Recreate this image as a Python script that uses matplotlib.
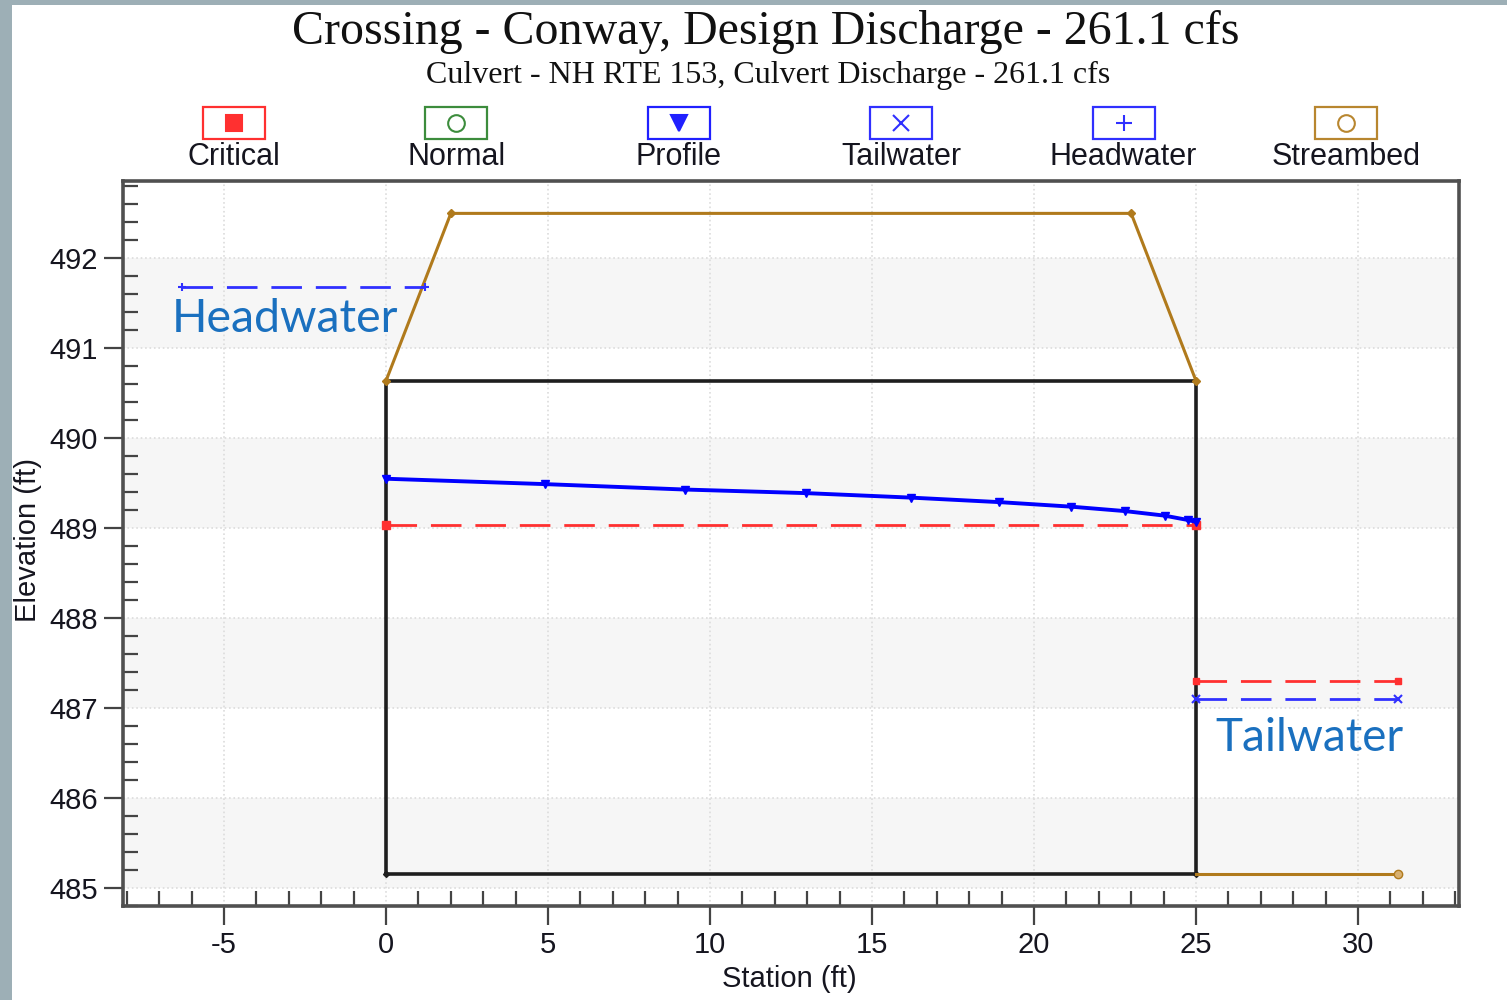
import numpy as np
import matplotlib.pyplot as plt
from matplotlib.patches import Rectangle

plt.rcParams["axes.unicode_minus"] = False

# culvert crossing profile, station (ft) / elevation (ft)
culvert_x = [0, 25, 25, 0, 0]
culvert_y = [485.16, 485.16, 490.64, 490.64, 485.16]

road_x = [0, 2, 23, 25]
road_y = [490.64, 492.5, 492.5, 490.64]

bed_x = [25, 31.25]
bed_y = [485.16, 485.16]

profile_x = [0, 4.92, 9.22, 12.97, 16.21, 18.93, 21.13, 22.82, 24.03, 24.77, 25.0]
profile_y = [489.55, 489.49, 489.43, 489.39, 489.34, 489.29, 489.24, 489.19, 489.14, 489.09, 489.07]

crit_x = [0, 25]
crit_y = [489.04, 489.04]
crit_out_x = [25, 31.25]
crit_out_y = [487.30, 487.30]

tw_x = [25, 31.25]
tw_y = [487.10, 487.10]

hw_x = [-6.3, 1.2]
hw_y = [491.68, 491.68]

legend_names = ["Critical", "Normal", "Profile", "Tailwater", "Headwater", "Streambed"]
legend_colors = ["#ff3030", "#3c8c3c", "#2020ff", "#3030ff", "#3030ff", "#b8862f"]
legend_markers = ["s", "o", "v", "x", "+", "o"]
legend_filled = [True, False, True, False, False, False]

RED = "#ff3030"
BLUE = "#0000ff"
BROWN = "#b07a1c"

fig = plt.figure(figsize=(15.07, 10), dpi=100)
fig.patch.set_facecolor("white")

# background / legend layer in pixel coordinates
lax = fig.add_axes([0, 0, 1, 1], zorder=-5)
lax.set_xlim(0, 1507)
lax.set_ylim(1000, 0)
lax.axis("off")
lax.add_patch(Rectangle((0, 0), 12, 1000, color="#9dafb6", lw=0))
lax.add_patch(Rectangle((0, 0), 1507, 5, color="#9dafb6", lw=0))

for i, name in enumerate(legend_names):
    cx = 234 + i * 222.4
    lax.add_patch(Rectangle((cx - 31, 107), 62, 32, fill=False,
                            edgecolor=legend_colors[i], lw=1.6))
    mfc = legend_colors[i] if legend_filled[i] else "none"
    lax.plot([cx], [123], marker=legend_markers[i], ms=12, mfc=mfc,
             mec=legend_colors[i], mew=1.5, ls="none")
    lax.text(cx, 157, name, ha="center", va="center", fontsize=22,
             family="Liberation Sans", color="#15151f")

fig.text(0.508, 0.968, "Crossing - Conway, Design Discharge - 261.1 cfs",
         ha="center", va="center", fontsize=34.5, family="Liberation Serif", color="#111")
fig.text(0.510, 0.925, "Culvert - NH RTE 153, Culvert Discharge - 261.1 cfs",
         ha="center", va="center", fontsize=23, family="Liberation Serif", color="#111")

ax = fig.add_axes([123 / 1507, 1 - 906 / 1000, (1459 - 123) / 1507, (906 - 181) / 1000])
ax.set_facecolor("white")
ax.set_xlim(-8.12, 33.12)
ax.set_ylim(484.8, 492.86)

for lo in range(485, 492, 2):
    ax.axhspan(lo, lo + 1, color="#f6f6f6", lw=0, zorder=0)

ax.set_xticks(np.arange(-5, 31, 5))
ax.set_xticks(np.arange(-8, 34, 1), minor=True)
ax.set_yticks(np.arange(485, 493, 1))
ax.set_yticks(np.round(np.arange(484.8, 492.85, 0.2), 1), minor=True)
ax.grid(True, which="major", linestyle=":", color="#dcdcdc", lw=1.2)
ax.set_axisbelow(True)

ax.tick_params(which="major", direction="out", length=14, width=1.6, color="#444",
               labelsize=21, pad=4)
ax.tick_params(which="minor", direction="in", length=11, width=1.6, color="#444")
for lab in ax.get_xticklabels() + ax.get_yticklabels():
    lab.set_family("Liberation Sans")
    lab.set_color("#15151f")

for s in ax.spines.values():
    s.set_color("#505050")
    s.set_linewidth(2.6)

# culvert barrel
ax.plot(culvert_x, culvert_y, color="#1e1e1e", lw=2.6, zorder=3)
ax.plot(culvert_x[:2], culvert_y[:2], color="#1e1e1e", lw=0, marker="D", ms=3, zorder=3)

# roadway embankment and downstream streambed
ax.plot(road_x, road_y, color=BROWN, lw=2.2, marker="D", ms=4, zorder=4)
ax.plot(bed_x, bed_y, color=BROWN, lw=2.2, zorder=4)
ax.plot(bed_x[-1], bed_y[-1], marker="o", ms=6, color=BROWN, mfc="#d8b070", zorder=4)

# water surfaces
ax.plot(crit_x, crit_y, color=RED, lw=2, dashes=(11, 5), zorder=4)
ax.plot(crit_x, crit_y, color=RED, lw=0, marker="s", ms=6, zorder=4)
ax.plot(crit_out_x, crit_out_y, color=RED, lw=2, dashes=(11, 5), marker="s", ms=5, zorder=4)
ax.plot(tw_x, tw_y, color="#3030ff", lw=2, dashes=(11, 5), marker="x", ms=6, mew=1.5, zorder=4)
ax.plot(hw_x, hw_y, color="#3030ff", lw=2, dashes=(11, 5), marker="+", ms=6, mew=1.5, zorder=4)
ax.plot(profile_x, profile_y, color=BLUE, lw=2.8, marker="v", ms=6, zorder=5)

ax.text(-6.6, 491.33, "Headwater", fontsize=33.5, family="Lato", color="#1a70bf",
        ha="left", va="center", zorder=6)
ax.text(25.6, 486.67, "Tailwater", fontsize=33, family="Lato", color="#1a70bf",
        ha="left", va="center", zorder=6)

ax.set_xlabel("Station (ft)", fontsize=21, family="Liberation Sans", color="#15151f")
ax.xaxis.set_label_coords(0.499, -0.101)
ax.xaxis.label.set_va("center")
ax.set_ylabel("Elevation (ft)", fontsize=21, family="Liberation Sans", color="#15151f")
ax.yaxis.set_label_coords(-0.071, 0.505)
ax.yaxis.label.set_va("center")

fig.savefig("out.png", dpi=100)
